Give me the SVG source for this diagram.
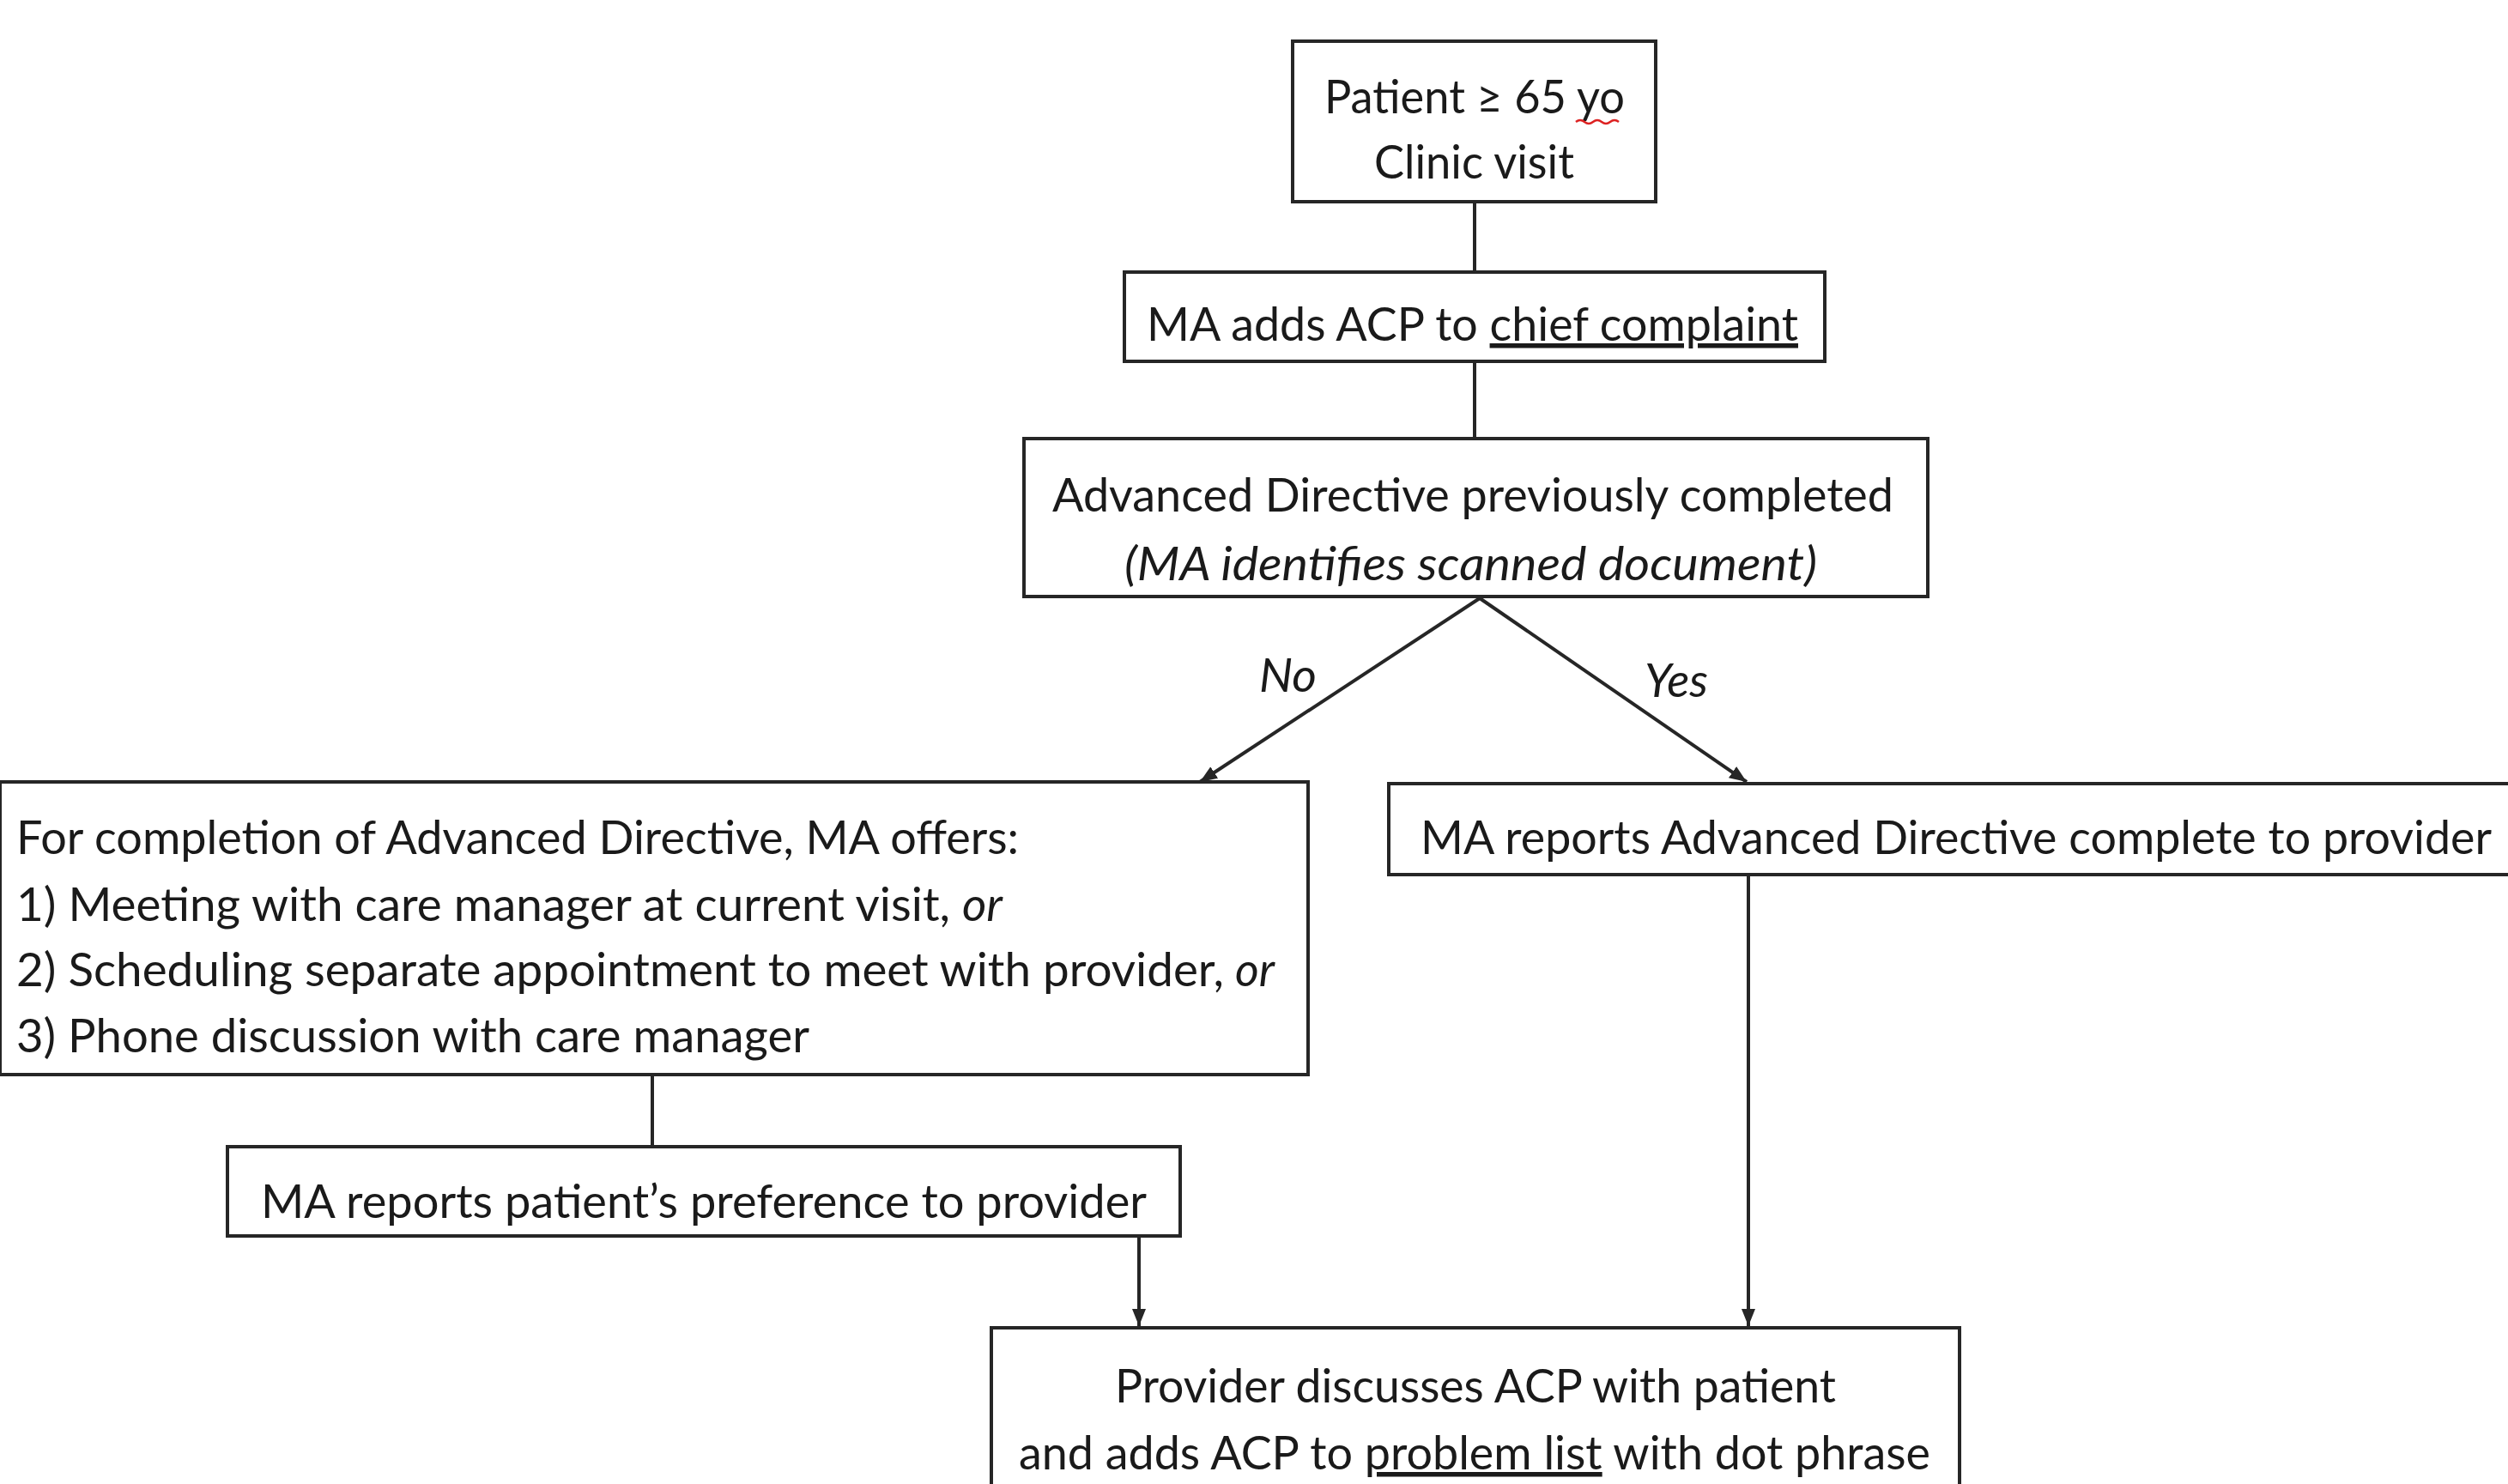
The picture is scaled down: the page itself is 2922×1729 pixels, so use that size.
<svg xmlns="http://www.w3.org/2000/svg" width="2922" height="1729" viewBox="0 0 2922 1729">
<style>
.box{fill:#fff;stroke:#262626;stroke-width:4}
.t{font-family:Lato,"Open Sans","Liberation Sans",sans-serif;font-size:55px;fill:#1a1a1a}
.i{font-style:italic}
.u{text-decoration:underline}
.ln{stroke:#262626;stroke-width:4;fill:none}
</style>
<defs>
<marker id="ah" viewBox="0 0 10 10" refX="10" refY="5" markerWidth="5" markerHeight="5" orient="auto" markerUnits="strokeWidth">
<path d="M0,1 L10,5 L0,9 z" fill="#262626"/>
</marker>
</defs>
<rect width="2922" height="1729" fill="#fff"/>
<g id="connectors">
<line class="ln" x1="1718" y1="235" x2="1718" y2="317"/>
<line class="ln" x1="1718" y1="421" x2="1718" y2="511"/>
<line class="ln" x1="1724" y1="697" x2="1398" y2="911" marker-end="url(#ah)"/>
<line class="ln" x1="1724" y1="697" x2="2035" y2="911" marker-end="url(#ah)"/>
<line class="ln" x1="760" y1="1252" x2="760" y2="1336"/>
<line class="ln" x1="1327" y1="1440" x2="1327" y2="1545" marker-end="url(#ah)"/>
<line class="ln" x1="2037" y1="1019" x2="2037" y2="1545" marker-end="url(#ah)"/>
<text class="t i" x="1467" y="806" textLength="67" lengthAdjust="spacingAndGlyphs">No</text>
<text class="t i" x="1916" y="812" textLength="74" lengthAdjust="spacingAndGlyphs">Yes</text>
</g>
<g id="n1">
<rect class="box" x="1506" y="48" width="423" height="187"/>
<text class="t" x="1543" y="132" textLength="350" lengthAdjust="spacingAndGlyphs">Patient ≥ 65 yo</text>
<path d="M1836,142 q5,-4 10,0 t10,0 t10,0 t10,0 t10,0" fill="none" stroke="#d22" stroke-width="2.5"/>
<text class="t" x="1601" y="208" textLength="233" lengthAdjust="spacingAndGlyphs">Clinic visit</text>
</g>
<g id="n2">
<rect class="box" x="1310" y="317" width="816" height="104"/>
<text class="t" x="1336" y="397" textLength="759" lengthAdjust="spacingAndGlyphs">MA adds ACP to <tspan class="u">chief complaint</tspan></text>
</g>
<g id="n3">
<rect class="box" x="1193" y="511" width="1053" height="184"/>
<text class="t" x="1226" y="596" textLength="980" lengthAdjust="spacingAndGlyphs">Advanced Directive previously completed</text>
<text class="t i" x="1310" y="676" textLength="807" lengthAdjust="spacingAndGlyphs">(MA identifies scanned document)</text>
</g>
<g id="n4">
<rect class="box" x="0" y="911" width="1524" height="341"/>
<text class="t" x="19" y="995" textLength="1168" lengthAdjust="spacingAndGlyphs">For completion of Advanced Directive, MA offers:</text>
<text class="t" x="19" y="1073" textLength="1088" lengthAdjust="spacingAndGlyphs">1) Meeting with care manager at current visit,</text>
<text class="t i" x="1121" y="1073" textLength="47" lengthAdjust="spacingAndGlyphs">or</text>
<text class="t" x="19" y="1149" textLength="1407" lengthAdjust="spacingAndGlyphs">2) Scheduling separate appointment to meet with provider,</text>
<text class="t i" x="1439" y="1149" textLength="46" lengthAdjust="spacingAndGlyphs">or</text>
<text class="t" x="19" y="1226" textLength="924" lengthAdjust="spacingAndGlyphs">3) Phone discussion with care manager</text>
</g>
<g id="n5">
<rect class="box" x="265" y="1336" width="1110" height="104"/>
<text class="t" x="304" y="1419" textLength="1032" lengthAdjust="spacingAndGlyphs">MA reports patient’s preference to provider</text>
</g>
<g id="n6">
<rect class="box" x="1618" y="913" width="1310" height="106"/>
<text class="t" x="1655" y="995" textLength="1248" lengthAdjust="spacingAndGlyphs">MA reports Advanced Directive complete to provider</text>
</g>
<g id="n7">
<rect class="box" x="1155" y="1547" width="1128" height="200"/>
<text class="t" x="1299" y="1634" textLength="840" lengthAdjust="spacingAndGlyphs">Provider discusses ACP with patient</text>
<text class="t" x="1187" y="1712" textLength="1062" lengthAdjust="spacingAndGlyphs">and adds ACP to <tspan class="u">problem list</tspan> with dot phrase</text>
</g>
</svg>
